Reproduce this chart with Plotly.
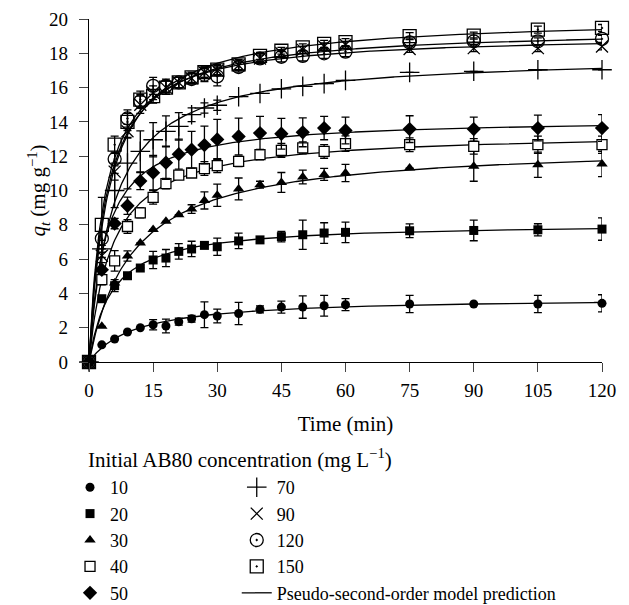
import numpy as np
import plotly.graph_objects as go

# ---- data ----
time_min = [0, 3, 6, 9, 12, 15, 18, 21, 24, 27, 30, 35, 40, 45, 50, 55, 60, 75, 90, 105, 120]

q10 = [0, 1.0, 1.34, 1.75, 2.0, 2.17, 2.1, 2.35, 2.52, 2.76, 2.68, 2.83, 3.07, 3.2, 3.2, 3.28, 3.34, 3.38, 3.38, 3.38, 3.42]
e10 = [0, 0, 0, 0, 0, 0.3, 0.4, 0.2, 0.2, 0.75, 0.4, 0.65, 0.2, 0.35, 0.65, 0.6, 0.35, 0.5, 0, 0.5, 0.5]

q20 = [0, 3.69, 4.45, 5.03, 5.48, 5.95, 6.06, 6.45, 6.59, 6.8, 6.72, 7.06, 7.12, 7.31, 7.42, 7.52, 7.56, 7.65, 7.67, 7.71, 7.75]
e20 = [0, 0, 0.35, 0, 0, 0.5, 0.5, 0.45, 0.45, 0, 0.5, 0.45, 0, 0.3, 0.85, 0.6, 0.6, 0.4, 0.6, 0.35, 0.65]

q30 = [0, 2.08, 4.6, 6.18, 6.94, 7.72, 8.2, 8.59, 8.92, 9.42, 9.72, 10.09, 10.34, 10.47, 10.79, 10.94, 11.02, 11.31, 11.41, 11.5, 11.55]
e30 = [0, 0, 0, 0.3, 0, 0, 0, 0, 0.25, 0.5, 0.65, 0.64, 0.2, 0.58, 0.4, 0.35, 0.5, 0, 0.87, 0.74, 0.74]

q40 = [0, 4.8, 5.9, 7.9, 8.7, 9.6, 10.4, 10.9, 11.02, 11.28, 11.45, 11.7, 12.09, 12.34, 12.48, 12.28, 12.73, 12.67, 12.57, 12.67, 12.67]
e40 = [0, 0.3, 0.6, 0.4, 0.3, 0.4, 0.3, 0.2, 0.2, 0.4, 0.4, 0.3, 0.3, 0.4, 0.35, 0.4, 0.45, 0.4, 0.45, 0.5, 0.5]

q50 = [0, 5.38, 8.07, 9.11, 10.55, 11.04, 11.62, 12.12, 12.38, 12.65, 12.98, 13.15, 13.35, 13.31, 13.39, 13.64, 13.5, 13.58, 13.58, 13.64, 13.64]
e50 = [0, 0, 0.3, 0.5, 0.5, 1.0, 0.97, 0.87, 1.07, 1.1, 1.17, 1.07, 0.97, 0.9, 0.84, 0.68, 0.78, 0.78, 0.7, 0.75, 0.78]

q70 = [0, 6.6, 10.0, 11.6, 12.28, 12.96, 13.45, 13.74, 14.42, 14.81, 14.97, 15.47, 15.66, 15.93, 16.07, 16.23, 16.42, 16.89, 16.95, 17.04, 17.04]
e70 = [0, 0.5, 1.0, 1.5, 1.2, 1.0, 0.9, 0.8, 0.4, 0.3, 0.3, 0, 0, 0, 0, 0, 0, 0, 0, 0, 0]

q90 = [0, 6.2, 11.1, 13.45, 15.0, 15.7, 16.0, 16.3, 16.55, 16.9, 17.0, 17.3, 17.7, 18.0, 18.2, 18.4, 18.5, 18.25, 18.3, 18.3, 18.4]
e90 = [0, 0.4, 0.5, 0.4, 0.5, 0.4, 0.4, 0.3, 0.3, 0.3, 0.3, 0.3, 0.2, 0.2, 0.2, 0.2, 0.2, 0.2, 0.2, 0.2, 0.2]

q120 = [0, 7.2, 11.84, 14.2, 15.2, 16.1, 16.1, 16.3, 16.5, 16.75, 16.65, 17.2, 17.7, 17.8, 17.85, 18.0, 18.1, 18.64, 18.7, 18.7, 18.84]
e120 = [0, 0.4, 0.4, 0.5, 0.4, 0.5, 0.4, 0.3, 0.3, 0.4, 0.55, 0.3, 0.3, 0.3, 0.3, 0.3, 0.3, 0.2, 0.2, 0.2, 0.2]

q150 = [0, 8.0, 12.67, 14.0, 15.3, 15.5, 16.0, 16.3, 16.6, 16.9, 17.05, 17.35, 17.85, 18.15, 18.35, 18.55, 18.65, 19.0, 19.03, 19.38, 19.48]
e150 = [0, 1.6, 0.5, 0.5, 0.5, 0.4, 0.4, 0.3, 0.3, 0.3, 0.3, 0.3, 0.2, 0.2, 0.2, 0.2, 0.2, 0.2, 0.2, 0.2, 0.2]

labels = ["10", "20", "30", "40", "50", "70", "90", "120", "150"]
series = [q10, q20, q30, q40, q50, q70, q90, q120, q150]
errors = [e10, e20, e30, e40, e50, e70, e90, e120, e150]

x_ticks = [0, 15, 30, 45, 60, 75, 90, 105, 120]
y_ticks = [0, 2, 4, 6, 8, 10, 12, 14, 16, 18, 20]

# ---- styles ----
symbols = ["circle", "square", "triangle-up", "square", "diamond",
           "cross-thin-open", "x-thin-open", "circle-open-dot", "square-open-dot"]
fills = ["black", "black", "black", "white", "black", "black", "black", "black", "black"]
line_w = [0, 0, 0, 1.3, 0, 1.3, 1.3, 1.3, 1.3]
sizes = [9, 9, 10, 10, 11, 14, 12, 13, 13]
legends = ["legend"] * 5 + ["legend2"] * 4

FONT = "Liberation Serif, DejaVu Serif, serif"
TICK_SIZE = 19
TITLE_SIZE = 21
LEG_SIZE = 18

fig = go.Figure()

t_arr = np.array(time_min, dtype=float)
t_fine = np.linspace(0, 120, 481)

# pseudo-second-order fit lines (linearised fit t/q = 1/(k qe^2) + t/qe)
for i, q in enumerate(series):
    qa = np.array(q, dtype=float)
    m = t_arr > 0
    slope, intercept = np.polyfit(t_arr[m], t_arr[m] / qa[m], 1)
    qe = 1.0 / slope
    k = 1.0 / (intercept * qe ** 2)
    qfit = qe ** 2 * k * t_fine / (1 + qe * k * t_fine)
    fig.add_trace(go.Scatter(
        x=t_fine, y=qfit, mode="lines",
        line=dict(color="black", width=1.3),
        name="Pseudo-second-order model prediction",
        legend="legend2", legendrank=2000, legendgroup="model",
        showlegend=(i == 0), cliponaxis=False, hoverinfo="skip"))

for i, (lab, q, e) in enumerate(zip(labels, series, errors)):
    fig.add_trace(go.Scatter(
        x=time_min, y=q, mode="markers", name=lab,
        legend=legends[i], legendrank=100 + i, legendgroup="g" + lab,
        marker=dict(symbol=symbols[i], size=sizes[i], color=fills[i],
                    line=dict(color="black", width=line_w[i])),
        error_y=dict(type="data", array=e, visible=True,
                     color="black", thickness=1.3, width=4),
        cliponaxis=False))

PLOT_H = 343.0
leg_top = (362 - 469) / PLOT_H

fig.update_layout(
    width=629, height=605,
    margin=dict(l=89, r=27, t=19, b=243, autoexpand=False),
    paper_bgcolor="white", plot_bgcolor="white",
    font=dict(family=FONT, size=TICK_SIZE, color="black"),
    xaxis=dict(range=[0, 120], tickvals=x_ticks, ticks="outside", ticklen=9,
               tickwidth=1.3, showline=True, linewidth=1.3, linecolor="black",
               showgrid=False, zeroline=False, ticklabelstandoff=2,
               tickfont=dict(family=FONT, size=TICK_SIZE),
               title=dict(text="Time (min)", standoff=16,
                          font=dict(family=FONT, size=TITLE_SIZE))),
    yaxis=dict(range=[0, 20], tickvals=y_ticks, ticks="outside", ticklen=9,
               tickwidth=1.3, showline=True, linewidth=1.3, linecolor="black",
               showgrid=False, zeroline=False, ticklabelstandoff=7,
               tickfont=dict(family=FONT, size=TICK_SIZE)),
    legend=dict(x=-0.037, xanchor="left", y=leg_top, yanchor="top",
                orientation="v", bgcolor="rgba(0,0,0,0)", tracegroupgap=0,
                font=dict(family=FONT, size=LEG_SIZE), itemclick=False),
    legend2=dict(x=0.288, xanchor="left", y=leg_top, yanchor="top",
                 orientation="v", bgcolor="rgba(0,0,0,0)", tracegroupgap=0,
                 font=dict(family=FONT, size=LEG_SIZE), itemclick=False),
    showlegend=True,
    annotations=[
        dict(text="Initial AB80 concentration (mg L<sup>−1</sup>)",
             xref="paper", yref="paper", x=-3 / 513, y=-96 / PLOT_H,
             xanchor="left", yanchor="middle", showarrow=False,
             font=dict(family=FONT, size=TITLE_SIZE)),
        dict(text="<i>q</i><sub><i>t</i></sub> (mg g<sup>−1</sup>)",
             xref="paper", yref="paper", x=(38 - 89) / 513, y=0.5,
             xanchor="center", yanchor="middle", textangle=-90, showarrow=False,
             font=dict(family=FONT, size=TITLE_SIZE)),
    ],
)

fig.write_html("out.html")
